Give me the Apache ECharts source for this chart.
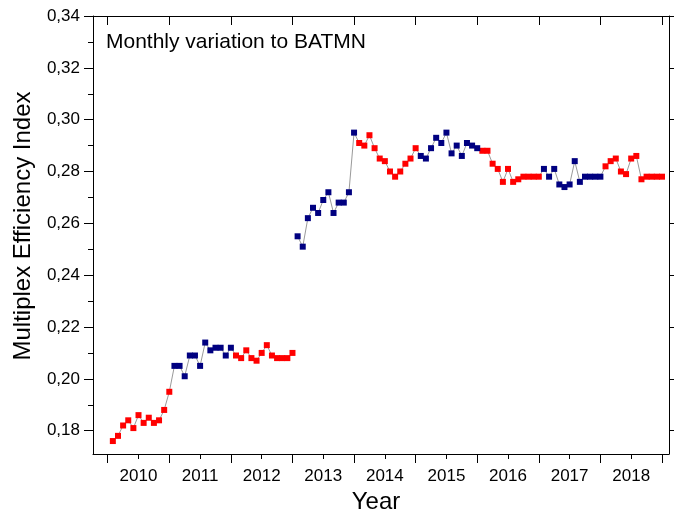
<!DOCTYPE html>
<html>
<head>
<meta charset="utf-8">
<script src="https://cdn.jsdelivr.net/npm/echarts@6/dist/echarts.min.js"></script>
<style>
  html, body { margin: 0; padding: 0; background: #fff; }
  #chart { width: 675px; height: 514px; }
</style>
</head>
<body>
<div id="chart"></div>
<script>
  // monthly values, Jan..Dec for each year
  const years = [2010, 2011, 2012, 2013, 2014, 2015, 2016, 2017, 2018]
  const v2010 = [0.176, 0.178, 0.182, 0.184, 0.181, 0.186, 0.183, 0.185, 0.183, 0.184, 0.188, 0.195]
  const v2011 = [0.205, 0.205, 0.201, 0.209, 0.209, 0.205, 0.214, 0.211, 0.212, 0.212, 0.209, 0.212]
  const v2012 = [0.209, 0.208, 0.211, 0.208, 0.207, 0.210, 0.213, 0.209, 0.208, 0.208, 0.208, 0.210]
  const v2013 = [0.255, 0.251, 0.262, 0.266, 0.264, 0.269, 0.272, 0.264, 0.268, 0.268, 0.272, 0.295]
  const v2014 = [0.291, 0.290, 0.294, 0.289, 0.285, 0.284, 0.280, 0.278, 0.280, 0.283, 0.285, 0.289]
  const v2015 = [0.286, 0.285, 0.289, 0.293, 0.291, 0.295, 0.287, 0.290, 0.286, 0.291, 0.290, 0.289]
  const v2016 = [0.288, 0.288, 0.283, 0.281, 0.276, 0.281, 0.276, 0.277, 0.278, 0.278, 0.278, 0.278]
  const v2017 = [0.281, 0.278, 0.281, 0.275, 0.274, 0.275, 0.284, 0.276, 0.278, 0.278, 0.278, 0.278]
  const v2018 = [0.282, 0.284, 0.285, 0.280, 0.279, 0.285, 0.286, 0.277, 0.278, 0.278, 0.278, 0.278]
  const yearValues = [v2010, v2011, v2012, v2013, v2014, v2015, v2016, v2017, v2018]

  // the line is broken between 2012 and 2013
  const breakYear = 2013

  const yMajor = [0.18, 0.20, 0.22, 0.24, 0.26, 0.28, 0.30, 0.32, 0.34]
  const yMinor = [0.19, 0.21, 0.23, 0.25, 0.27, 0.29, 0.31, 0.33]
  const xMajor = [2010, 2011, 2012, 2013, 2014, 2015, 2016, 2017, 2018, 2019]
  const xLabels = [2010.5, 2011.5, 2012.5, 2013.5, 2014.5, 2015.5, 2016.5, 2017.5, 2018.5]

  const redPts = [], bluePts = [], lineA = [], lineB = []
  years.forEach((yr, i) => {
    yearValues[i].forEach((v, m) => {
      const p = [yr + (m + 1) / 12, v]
      if (i % 2 === 0) redPts.push(p)
      else bluePts.push(p)
      if (yr < breakYear) lineA.push(p)
      else lineB.push(p)
    })
  })

  const font = 'Liberation Sans, Arial, sans-serif'
  const xMin = 2009.761, xMax = 2019.114
  const yMin = 0.171, yMax = 0.34
  const axisLine = { show: true, lineStyle: { color: '#000', width: 1 } }

  const chart = echarts.init(document.getElementById('chart'))
  chart.setOption({
    animation: false,
    backgroundColor: '#fff',
    grid: { left: 93, right: 6, top: 16, bottom: 60 },
    graphic: [
      {
        type: 'text', left: 106, top: 32,
        style: { text: 'Monthly variation to BATMN', fontSize: 21, fontFamily: font, fill: '#000' }
      },
      {
        // y axis title
        type: 'text', x: 23, y: 226, rotation: Math.PI / 2,
        style: {
          text: 'Multiplex Efficiency Index', fontSize: 24, fontFamily: font, fill: '#000',
          align: 'center', verticalAlign: 'middle'
        }
      },
      {
        // x axis title
        type: 'text', x: 376, y: 502,
        style: {
          text: 'Year', fontSize: 24, fontFamily: font, fill: '#000',
          align: 'center', verticalAlign: 'middle'
        }
      }
    ],
    xAxis: [
      {
        type: 'value', position: 'bottom', min: xMin, max: xMax,
        axisLine: axisLine,
        axisTick: { show: true, customValues: xMajor, length: 9, lineStyle: { color: '#000' } },
        axisLabel: {
          customValues: xLabels, margin: 14, fontSize: 17, fontFamily: font, color: '#000',
          formatter: v => String(Math.floor(v))
        },
        splitLine: { show: false }
      },
      {
        // minor ticks at mid-year
        type: 'value', position: 'bottom', min: xMin, max: xMax,
        axisLine: { show: false },
        axisTick: { show: true, customValues: xLabels, length: 5, lineStyle: { color: '#000' } },
        axisLabel: { show: false },
        splitLine: { show: false }
      },
      {
        type: 'value', position: 'top', min: xMin, max: xMax,
        axisLine: axisLine,
        axisTick: { show: true, inside: true, customValues: xMajor, length: 9, lineStyle: { color: '#000' } },
        axisLabel: { show: false },
        splitLine: { show: false }
      }
    ],
    yAxis: [
      {
        type: 'value', position: 'left', min: yMin, max: yMax,
        axisLine: axisLine,
        axisTick: { show: true, customValues: yMajor, length: 9, lineStyle: { color: '#000' } },
        axisLabel: {
          customValues: yMajor, margin: 13, fontSize: 17, fontFamily: font, color: '#000',
          formatter: v => v.toFixed(2).replace('.', ',')
        },
        splitLine: { show: false }
      },
      {
        type: 'value', position: 'left', min: yMin, max: yMax,
        axisLine: { show: false },
        axisTick: { show: true, customValues: yMinor, length: 5, lineStyle: { color: '#000' } },
        axisLabel: { show: false },
        splitLine: { show: false }
      },
      {
        type: 'value', position: 'right', min: yMin, max: yMax,
        axisLine: axisLine,
        axisTick: { show: true, customValues: yMajor, length: 5, lineStyle: { color: '#000' } },
        axisLabel: { show: false },
        splitLine: { show: false }
      }
    ],
    series: [
      {
        type: 'line', data: lineA, showSymbol: false, z: 1,
        lineStyle: { color: '#9a9a9a', width: 1 }
      },
      {
        type: 'line', data: lineB, showSymbol: false, z: 1,
        lineStyle: { color: '#9a9a9a', width: 1 }
      },
      {
        type: 'scatter', data: redPts, symbol: 'rect', symbolSize: 6, z: 3,
        itemStyle: { color: '#ff0000', opacity: 1 }
      },
      {
        type: 'scatter', data: bluePts, symbol: 'rect', symbolSize: 6, z: 3,
        itemStyle: { color: '#000080', opacity: 1 }
      }
    ]
  })
</script>
</body>
</html>
